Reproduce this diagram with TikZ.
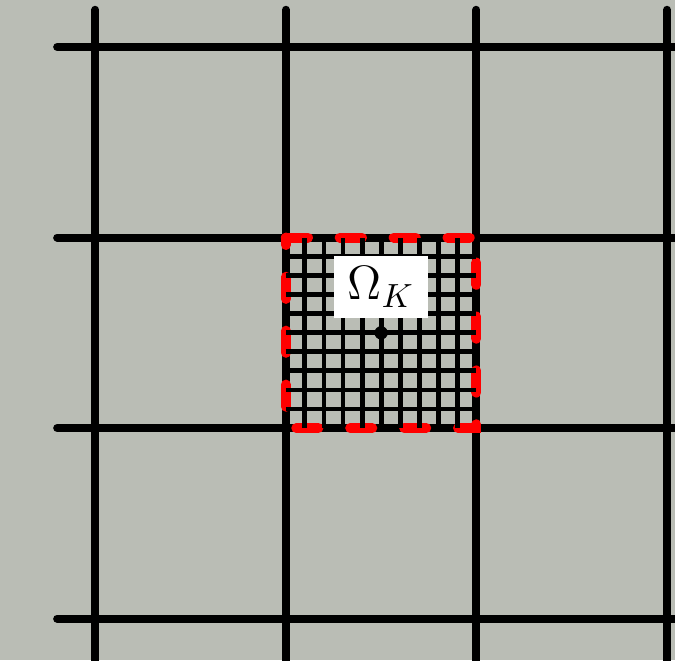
\documentclass[tikz,border=0pt]{standalone}
\usepackage{tikz}
\usetikzlibrary{positioning}
\definecolor{slate}{RGB}{186,189,181}

\begin{document}
\begin{tikzpicture}[x=1cm,y=1cm]
  \clip (-3,-2.436) rectangle (4.084,4.493);
  \fill[slate] (-3,-2.436) rectangle (4.084,4.493);
  % coarse mesh
  \foreach \x in {-2,0,2,4} \draw[line width=2.4pt,line cap=round] (\x,4.39) -- (\x,-2.7);
  \foreach \y in {-2,0,2,4} \draw[line width=2.4pt,line cap=round] (-2.4,\y) -- (4.3,\y);
  % boundary of the element
  \draw[red,line width=3pt,line cap=round,dash pattern=on 6.6pt off 9.5pt] (0,2) -- (2,2) -- (2,0) -- (0,0) -- cycle;
  % fine mesh
  \foreach \t in {0.2,0.4,...,1.8} {
    \draw[line width=1.45pt] (\t,0) -- (\t,2);
    \draw[line width=1.45pt] (0,\t) -- (2,\t);
  }
  \node[circle,fill=black,inner sep=0pt,minimum size=0.14cm] (centre) at (1,1) {};
  \node[fill=white,minimum width=0.98cm,minimum height=0.65cm,font=\Large] (omega) at (1,1.48) {$\Omega_K$};
\end{tikzpicture}
\end{document}
